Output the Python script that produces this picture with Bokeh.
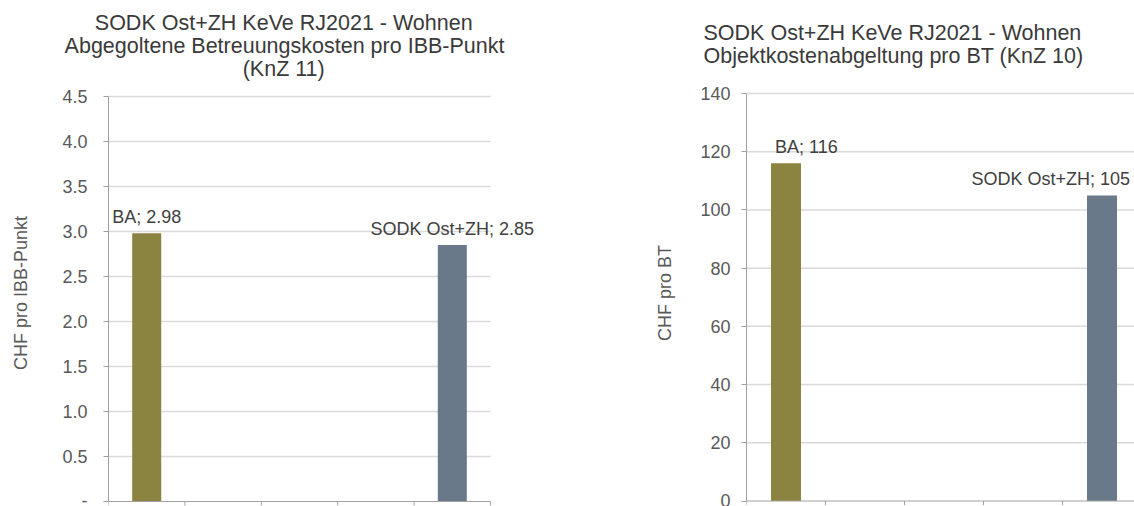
from bokeh.plotting import figure
from bokeh.layouts import row
from bokeh.models import Range1d, FixedTicker, Label, NumeralTickFormatter, Title
from bokeh.embed import file_html
from bokeh.resources import INLINE

# --- data -----------------------------------------------------------------
categories = ["BA", "SODK Ost+ZH"]
slots = [0, 4]                      # position of each bar among the 5 category slots
chf_per_ibb_point = [2.98, 2.85]    # KnZ 11
chf_per_bt = [116, 105]             # KnZ 10

title_left = ["SODK Ost+ZH KeVe RJ2021 - Wohnen",
              "Abgegoltene Betreuungskosten pro IBB-Punkt",
              "(KnZ 11)"]
title_right = ["SODK Ost+ZH KeVe RJ2021 - Wohnen",
               "Objektkostenabgeltung pro BT (KnZ 10)"]

ticks_left = [0, 0.5, 1.0, 1.5, 2.0, 2.5, 3.0, 3.5, 4.0, 4.5]
ticks_right = [0, 20, 40, 60, 80, 100, 120, 140]
boundaries = [-0.5, 0.5, 1.5, 2.5, 3.5, 4.5]

# --- style ----------------------------------------------------------------
FONT = "Liberation Sans"
TITLE_COLOR = "#3a3a3a"
TEXT_COLOR = "#404040"
TICK_COLOR = "#595959"
GRID_COLOR = "#d9d9d9"
AXIS_COLOR = "#a0a0a0"
BAR_COLORS = ["#8b8441", "#6a798a"]
BAR_WIDTH = 0.38
HEIGHT = 506
FRAME_TOP = 79          # both plots in the row share the same frame top
TITLE_PX = 21.5

# Arial / Liberation Sans advance widths (1/1000 em), used to centre title lines
_ADV = {" ": 278, "(": 333, ")": 333, "+": 584, "-": 333, ".": 278,
        "A": 667, "B": 667, "D": 722, "H": 722, "I": 278, "J": 500, "K": 667,
        "O": 778, "P": 667, "R": 722, "S": 667, "T": 611, "V": 667, "W": 944,
        "Z": 611, "a": 556, "b": 556, "e": 556, "g": 556, "h": 556, "i": 222,
        "j": 222, "k": 500, "l": 222, "n": 556, "o": 556, "p": 556, "r": 333,
        "s": 500, "t": 278, "u": 556}


def text_width(s, px):
    return sum(_ADV.get(c, 556) for c in s) * px / 1000


def make_chart(values, y_ticks, fmt, ylabel, title_lines, *, frame_left, frame_right,
               fig_width, slot_px, zero_px, top_px, tick_standoff, label_standoff,
               title_standoffs, title_center=None, title_left_px=None):
    unit_px = (zero_px - top_px) / (y_ticks[-1] - y_ticks[0])
    frame_w = frame_right - frame_left
    frame_h = HEIGHT - FRAME_TOP
    x_end = -0.5 + frame_w / slot_px
    y_start = -(HEIGHT - zero_px) / unit_px
    y_end = y_ticks[-1] + (top_px - FRAME_TOP) / unit_px

    p = figure(frame_width=frame_w, frame_height=frame_h,
               min_border_left=frame_left, min_border_right=fig_width - frame_right,
               min_border_top=FRAME_TOP, min_border_bottom=0,
               x_range=Range1d(-0.5, x_end), y_range=Range1d(y_start, y_end),
               output_backend="svg", toolbar_location=None,
               background_fill_color="white", border_fill_color="white")
    p.outline_line_color = None
    p.xaxis.visible = False
    p.xgrid.visible = False
    p.ygrid.visible = False

    # horizontal gridlines across the five category slots
    grid_end = min(4.5, x_end)
    grid_y = [t for t in y_ticks if t > 0]
    p.segment(x0=-0.5, x1=grid_end, y0=grid_y, y1=grid_y,
              line_color=GRID_COLOR, line_width=1.5)

    p.vbar(x=slots, top=values, width=BAR_WIDTH, color=BAR_COLORS, line_color=None)

    # category axis line with boundary tick marks
    tick_len = 4 / unit_px
    p.segment(x0=-0.5, x1=grid_end, y0=0, y1=0, line_color=AXIS_COLOR, line_width=1)
    bx = [b for b in boundaries if b <= x_end]
    p.segment(x0=bx, x1=bx, y0=0, y1=-tick_len, line_color=AXIS_COLOR, line_width=1)

    # value axis
    yax = p.yaxis[0]
    yax.bounds = (y_ticks[0], y_ticks[-1])
    yax.ticker = FixedTicker(ticks=y_ticks)
    yax.formatter = NumeralTickFormatter(format=fmt)
    yax.axis_line_color = AXIS_COLOR
    yax.major_tick_line_color = AXIS_COLOR
    yax.major_tick_out = 5
    yax.major_tick_in = 0
    yax.minor_tick_line_color = None
    yax.major_label_text_font = FONT
    yax.major_label_text_font_size = "18px"
    yax.major_label_text_color = TICK_COLOR
    yax.major_label_standoff = tick_standoff
    yax.axis_label = ylabel
    yax.axis_label_text_font = FONT
    yax.axis_label_text_font_size = "18px"
    yax.axis_label_text_font_style = "normal"
    yax.axis_label_text_color = TICK_COLOR
    yax.axis_label_standoff = label_standoff

    # one title per line, stacked upward from the frame (nearest line first)
    for line, standoff in zip(reversed(title_lines), title_standoffs):
        if title_center is not None:
            left = title_center - text_width(line, TITLE_PX) / 2
        else:
            left = title_left_px
        p.add_layout(Title(text=line, align="left", offset=left - frame_left,
                           standoff=standoff,
                           text_font=FONT, text_font_size=f"{TITLE_PX}px",
                           text_font_style="normal", text_color=TITLE_COLOR,
                           text_line_height=1.0), "above")
    return p


# left chart: CHF per IBB point
p1 = make_chart(chf_per_ibb_point, ticks_left, "0.0", "CHF pro IBB-Punkt", title_left,
                frame_left=108, frame_right=545, fig_width=567,
                slot_px=76.4, zero_px=501, top_px=96, tick_standoff=16,
                label_standoff=28, title_standoffs=[-3.5, -3.5, -3.5],
                title_center=284)
p1.yaxis[0].major_label_overrides = {0: "-"}

# right chart: CHF per BT
p2 = make_chart(chf_per_bt, ticks_right, "0", "CHF pro BT", title_right,
                frame_left=179, frame_right=567, fig_width=567,
                slot_px=79, zero_px=500.5, top_px=93, tick_standoff=11,
                label_standoff=22, title_standoffs=[23.4, -29.4],
                title_left_px=179 - 43)

# value labels
for p, vals, digits, offsets, aligns in (
        (p1, chf_per_ibb_point, 2, [0, 0], ["center", "center"]),
        (p2, chf_per_bt, 0, [-11, 28], ["left", "right"])):
    for cat, pos, v, dx, al in zip(categories, slots, vals, offsets, aligns):
        p.add_layout(Label(x=pos, y=v, text=f"{cat}; {v:.{digits}f}",
                           x_offset=dx, y_offset=16,
                           text_align=al, text_baseline="alphabetic",
                           text_font=FONT, text_font_size="18px",
                           text_color=TEXT_COLOR))

layout = row(p1, p2)
open("out.html", "w").write(file_html(layout, INLINE))
